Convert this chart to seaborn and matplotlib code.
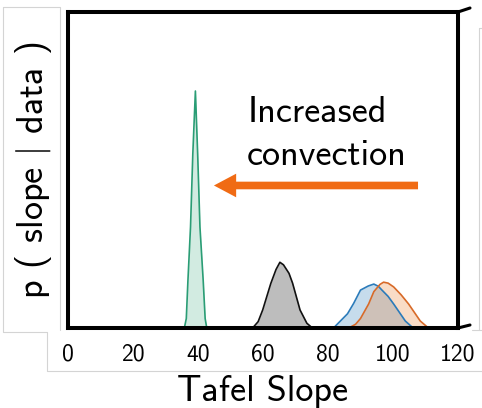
import numpy as np
import pandas as pd
import seaborn as sns
import matplotlib.pyplot as plt
from matplotlib.lines import Line2D

# densities (x = Tafel slope, y = relative density)
green_x = [35.8, 36.4, 36.9, 37.7, 38.4, 39.2, 39.9, 40.6, 41.6, 42.2, 42.7]
green_y = [0.0, 0.03, 0.15, 0.32, 0.55, 0.75, 0.55, 0.32, 0.15, 0.03, 0.0]

grey_x = [56.8, 58.5, 59.9, 62.4, 64.0, 65.2, 66.3, 68.0, 69.1, 71.4, 73.5, 75.2]
grey_y = [0.0, 0.02, 0.057, 0.141, 0.185, 0.208, 0.200, 0.173, 0.142, 0.057, 0.015, 0.0]

blue_x = [81.7, 83.8, 86.0, 87.9, 90.0, 92.4, 94.1, 95.5, 96.6, 98.5, 100.2, 103.8, 106.2]
blue_y = [0.0, 0.022, 0.045, 0.078, 0.12, 0.133, 0.139, 0.132, 0.12, 0.10, 0.076, 0.022, 0.0]

orange_x = [86.4, 88.5, 90.0, 92.5, 94.1, 96.0, 97.1, 98.5, 100.2, 102.5, 104.8, 108.4, 110.9]
orange_y = [0.0, 0.012, 0.03, 0.076, 0.115, 0.138, 0.145, 0.142, 0.13, 0.105, 0.076, 0.022, 0.0]

xticks = [0, 20, 40, 60, 80, 100, 120]

sns.set_theme(style='white')
plt.rcParams['font.family'] = ['cmss10', 'DejaVu Sans']
plt.rcParams['mathtext.fontset'] = 'cm'
plt.rcParams['axes.unicode_minus'] = False

fig = plt.figure(figsize=(4.82, 4.08), dpi=100)
ax = fig.add_axes([68 / 482, 1 - 328 / 408, 390 / 482, 316 / 408])

curves = [
    (green_x, green_y, '#d2ebe1', '#2a9d75', 1.0),
    (grey_x, grey_y, '#bdbdbd', '#111111', 1.0),
    (blue_x, blue_y, '#1f77b4', '#2b7bba', 0.25),
    (orange_x, orange_y, '#e8741f', '#d86a28', 0.25),
]
for cx, cy, fill, edge, a in curves:
    d = pd.DataFrame({'x': cx, 'y': cy})
    ax.fill_between(d['x'], d['y'], color=fill, alpha=a, lw=0)
    sns.lineplot(data=d, x='x', y='y', ax=ax, color=edge, lw=1.2, sort=False)

ax.set_xlim(0, 120)
ax.set_ylim(0, 1)
ax.set_xticks(xticks)
ax.set_yticks([])
ax.tick_params(axis='x', length=0, pad=11, labelsize=17, colors='black')
ax.set_xlabel('Tafel Slope', fontsize=26, labelpad=7, color='black')
ax.set_ylabel(r'p ( slope $|$ data )', fontsize=26, labelpad=10, color='black')
for s in ax.spines.values():
    s.set_color('black')
    s.set_linewidth(2.9)

# annotation
ax.text(55.4, 0.652, 'Increased', fontsize=26, ha='left', va='baseline', color='black')
ax.text(55.1, 0.516, 'convection', fontsize=26, ha='left', va='baseline', color='black')
ax.annotate('', xy=(44.9, 0.451), xytext=(107.7, 0.451),
            arrowprops=dict(arrowstyle='simple,head_length=16,head_width=17,tail_width=5.5',
                            mutation_scale=1, color='#f06b14', shrinkA=0, shrinkB=0, lw=0))

# faint panel borders from the source layout
def px_line(xs, ys, color='#d4d4d4', lw=0.8):
    fig.add_artist(Line2D([x / 482 for x in xs], [1 - y / 408 for y in ys],
                          color=color, lw=lw, transform=fig.transFigure))

px_line([3, 60, 60], [7, 7, 330])
px_line([3, 3, 47, 47, 482], [7, 331.5, 331.5, 371, 371])
px_line([479, 479], [28, 330])
px_line([479, 482], [28, 28])
px_line([472, 482], [330, 330])
px_line([458, 470], [12, 8], color='black', lw=2.2)
px_line([458, 470], [328, 325], color='black', lw=2.2)

fig.savefig('out.png', dpi=100)
